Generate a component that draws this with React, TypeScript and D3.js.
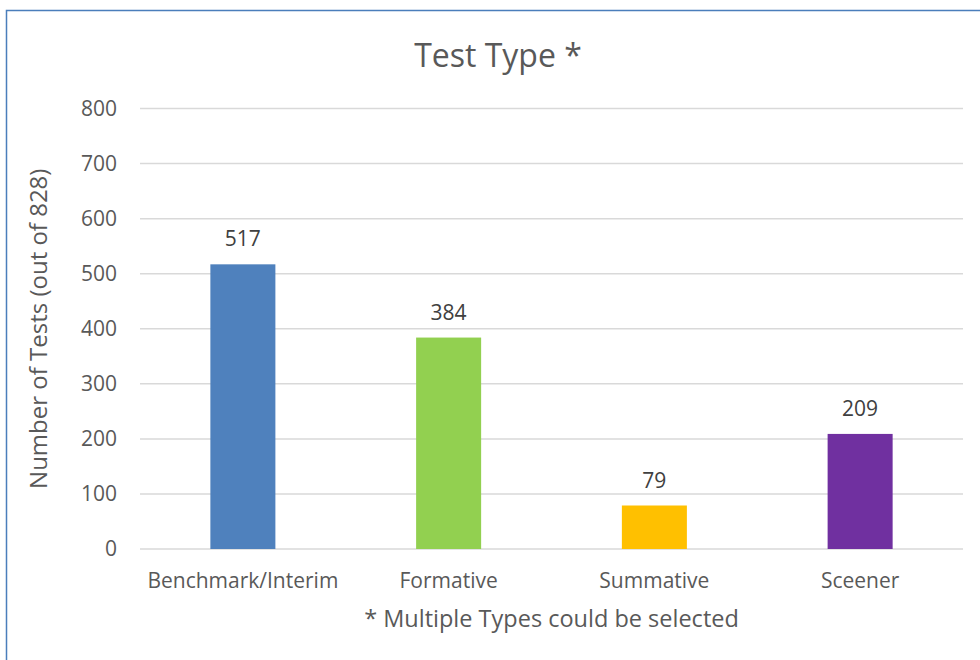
import React from "react";
import * as d3 from "d3";

const categories = ["Benchmark/Interim", "Formative", "Summative", "Sceener"];
const values = [517, 384, 79, 209];
const colors = ["#4f81bd", "#92d050", "#ffc000", "#7030a0"];
const yTicks = [0, 100, 200, 300, 400, 500, 600, 700, 800];
const title = "Test Type *";
const yLabel = "Number of Tests (out of 828)";
const footnote = "* Multiple Types could be selected";

const W = 980;
const H = 660;
const FONT = "'Open Sans', sans-serif";

export default function App() {
  const left = 140;
  const right = 963;
  const top = 108.5;
  const bottom = 549;
  const x = d3.scaleBand().domain(categories).range([left, right]).paddingInner(0.684).paddingOuter(0.342);
  const y = d3.scaleLinear().domain([0, 800]).range([bottom, top]);
  const textColor = "#595959";
  return (
    <svg width={W} height={H} style={{ position: "absolute", left: 0, top: 0, background: "#fff" }}>
      <rect x={0} y={0} width={W} height={H} fill="#fff" />
      <rect x={6.5} y={10.5} width={W + 20} height={H + 20} fill="none" stroke="#4a7ebb" strokeWidth={1.5} />
      <text x={498} y={67} textAnchor="middle" fontFamily={FONT} fontSize={32} fill={textColor}>{title}</text>
      {yTicks.map((t) => (
        <g key={t}>
          <line x1={left} x2={right} y1={y(t)} y2={y(t)} stroke="#d9d9d9" strokeWidth={1.5} />
          <text x={117} y={y(t)} dy="0.35em" textAnchor="end" fontFamily={FONT} fontSize={21} fill={textColor}>{t}</text>
        </g>
      ))}
      {categories.map((c, i) => (
        <g key={c}>
          <rect x={x(c)} y={y(values[i])} width={x.bandwidth()} height={y(0) - y(values[i])} fill={colors[i]} />
          <text x={(x(c) as number) + x.bandwidth() / 2} y={y(values[i]) - 18} textAnchor="middle" fontFamily={FONT} fontSize={21} fill="#404040">{values[i]}</text>
          <text x={(x(c) as number) + x.bandwidth() / 2} y={588} textAnchor="middle" fontFamily={FONT} fontSize={21} fill={textColor}>{c}</text>
        </g>
      ))}
      <text transform={`translate(47,${(top + bottom) / 2}) rotate(-90)`} textAnchor="middle" fontFamily={FONT} fontSize={24} fill={textColor}>{yLabel}</text>
      <text x={(left + right) / 2} y={627} textAnchor="middle" fontFamily={FONT} fontSize={23.5} fill={textColor}>{footnote}</text>
    </svg>
  );
}
